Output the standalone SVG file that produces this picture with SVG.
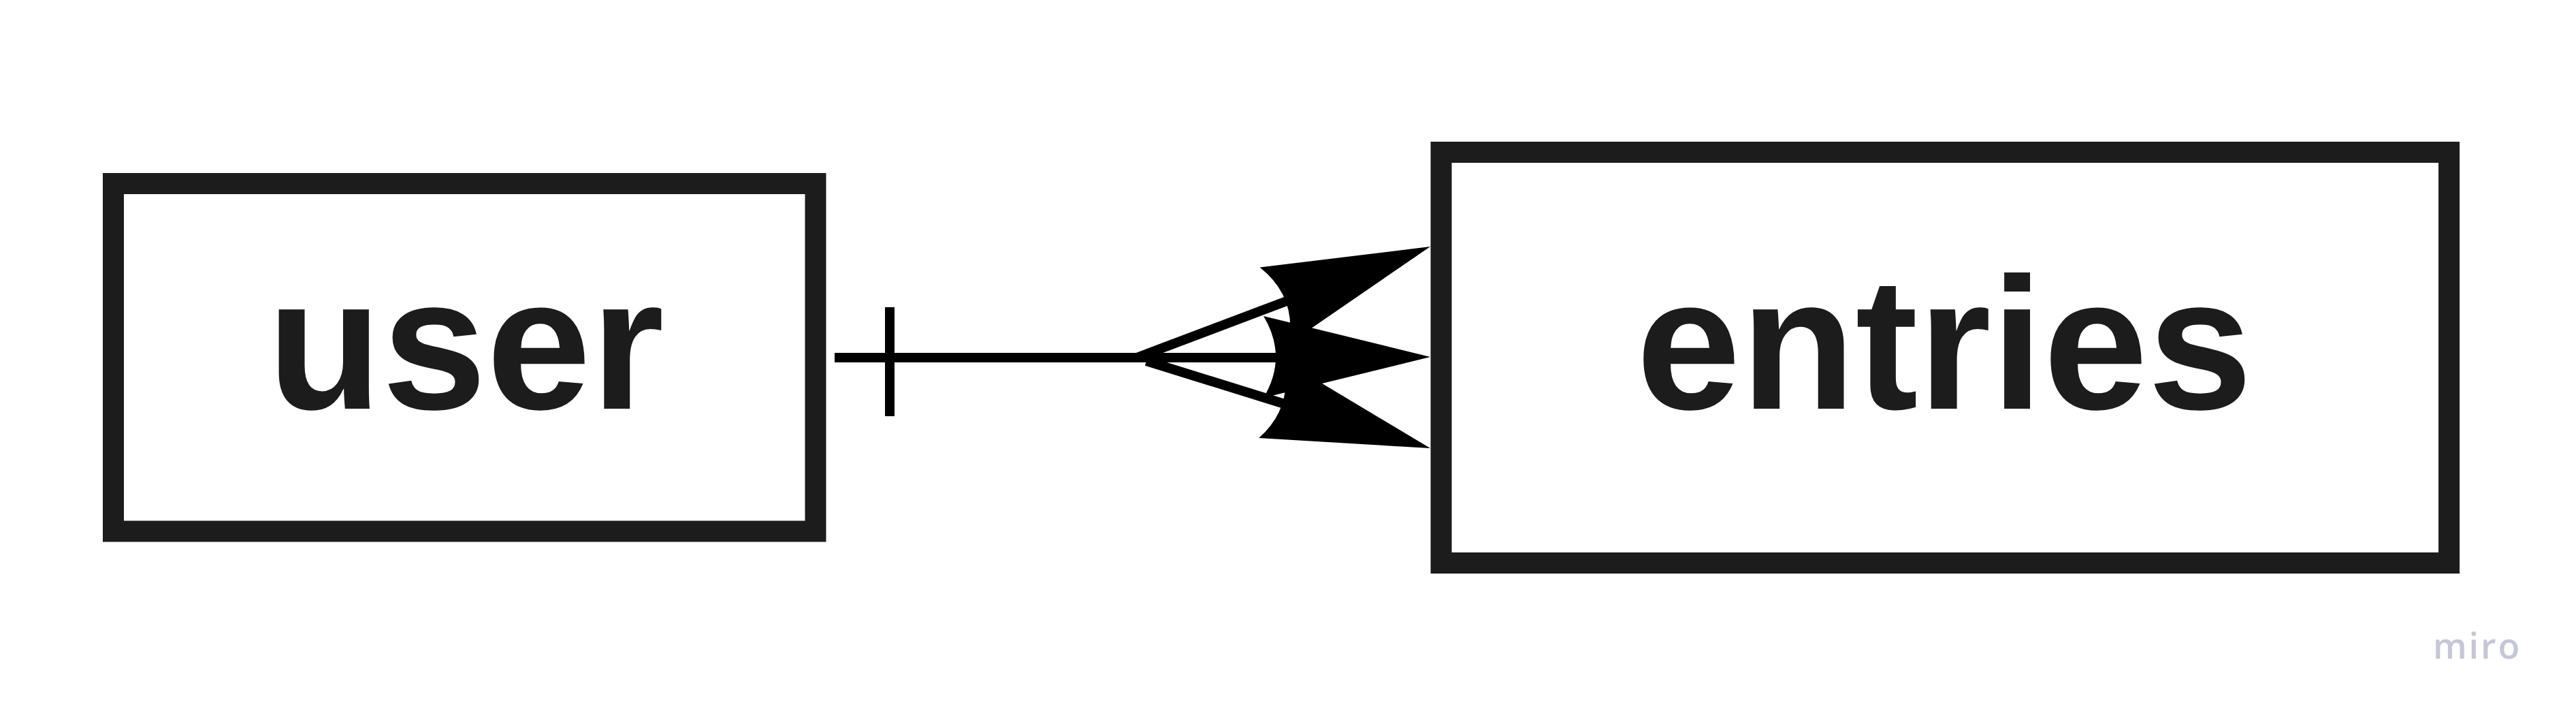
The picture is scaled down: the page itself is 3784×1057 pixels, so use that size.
<svg xmlns="http://www.w3.org/2000/svg" xmlns:xlink="http://www.w3.org/1999/xlink" width="3784" height="1057" viewBox="0 0 3784 1057">
  <style>
    .box { fill: #ffffff; stroke: #1c1c1c; stroke-width: 31; }
    .label { font-family: "Liberation Sans", Arial, sans-serif; font-weight: bold; font-size: 276px; fill: #1c1c1c; text-anchor: middle; }
    .conn { stroke: #000000; stroke-width: 14; fill: none; }
    .head { fill: #000000; }
    .logo { font-family: "Open Sans", "Liberation Sans", sans-serif; font-weight: 600; font-size: 52px; fill: #c5c6d6; letter-spacing: 3px; }
  </style>
  <defs>
    <path id="ah" class="head" d="M0,0 L-245,-60 Q-209,0 -245,60 Z"/>
  </defs>
  <rect width="3784" height="1057" fill="#ffffff"/>
  <g id="user">
    <rect class="box" x="166.5" y="269.5" width="1031.5" height="510.5"/>
    <text class="label" x="684" y="600">user</text>
  </g>
  <g id="entries">
    <rect class="box" x="2117" y="223.5" width="1480.5" height="603"/>
    <text class="label" x="2856" y="600">entries</text>
  </g>
  <g id="connectors">
    <line class="conn" x1="1226" y1="525" x2="1900" y2="525"/>
    <line class="conn" x1="1307" y1="451" x2="1307" y2="611"/>
    <line class="conn" x1="1670" y1="525" x2="1890" y2="442"/>
    <line class="conn" x1="1684" y1="530" x2="1890" y2="594"/>
    <use xlink:href="#ah" href="#ah" transform="translate(2101,362) rotate(-20.7)"/>
    <use xlink:href="#ah" href="#ah" transform="translate(2101,658) rotate(17.15)"/>
    <use xlink:href="#ah" href="#ah" transform="translate(2101,524)"/>
  </g>
  <text class="logo" x="3574" y="967">miro</text>
</svg>
